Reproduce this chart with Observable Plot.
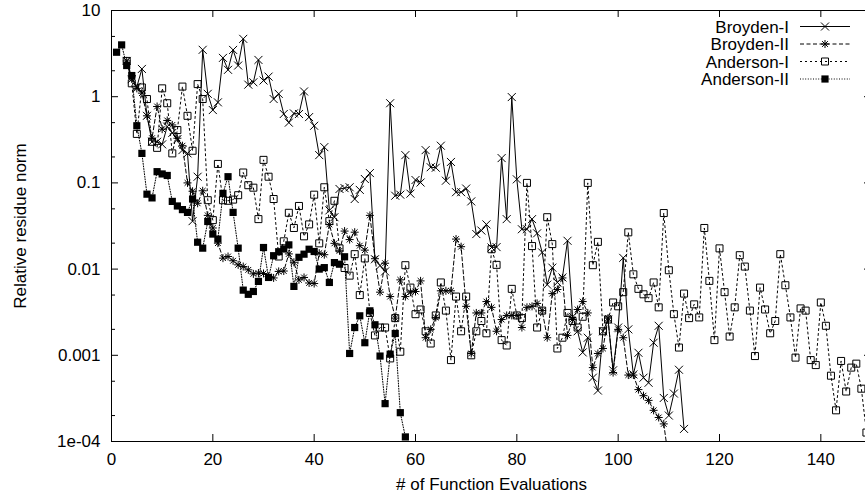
<!DOCTYPE html>
<html><head><meta charset="utf-8">
<script src="https://cdn.jsdelivr.net/npm/d3@7"></script>
<script src="https://cdn.jsdelivr.net/npm/@observablehq/plot@0.6"></script>
<style>
html,body{margin:0;padding:0;background:#fff;overflow:hidden;width:865px;height:499px;}
#chart svg{max-width:none !important;display:block;}
</style></head><body><div id="chart"></div>
<script>
// ---- axis ticks ----
const xTicks = [0, 20, 40, 60, 80, 100, 120, 140];
const yTicks = [1e-4, 1e-3, 1e-2, 1e-1, 1, 10];
const yTickLabels = ["1e-04", "0.001", "0.01", "0.1", "1", "10"];
const yMinorTicks = [2e-4, 5e-4, 2e-3, 5e-3, 2e-2, 5e-2, 0.2, 0.5, 2, 5];
const xLabel = "# of Function Evaluations";
const yLabel = "Relative residue norm";
const seriesNames = ["Broyden-I", "Broyden-II", "Anderson-I", "Anderson-II"];

// ---- series values (x = start, start+1, ...) ----
const broyden1Start = 3;
const broyden1 = [2.6,1.6,1.3,2.1,0.6,0.3,0.3,0.28,0.45,0.38,0.32,0.24,0.22,0.036,0.118,3.5,
  1.08,0.70,0.86,2.82,2.05,3.49,2.30,4.69,1.38,1.47,2.67,1.54,
  1.71,0.94,1.08,0.63,0.50,0.64,0.63,1.15,0.58,0.46,0.21,0.26,
  0.048,0.040,0.085,0.087,0.089,0.065,0.083,0.111,0.130,0.013,0.011,0.0094,
  0.84,0.071,0.073,0.21,0.075,0.108,0.101,0.24,0.152,0.15,0.27,0.106,
  0.175,0.078,0.078,0.086,0.061,0.0255,0.028,0.033,0.0178,0.018,0.194,0.038,
  0.99,0.11,0.029,0.029,0.038,0.026,0.0156,0.0066,0.0104,0.007,0.008,0.0213,
  0.0028,0.0019,0.00108,0.0016,0.00055,0.00039,0.0019,0.0026,0.00067,0.0021,0.0135,0.002,
  0.0006,0.00107,0.00055,0.00048,0.0014,0.0022,0.00032,0.0002,0.00036,0.00068,0.00014];

const broyden2Start = 3;
const broyden2 = [2.6,1.7,1.25,1.1,0.6,0.33,0.77,0.42,0.53,0.47,0.33,0.27,
  0.1,0.08,0.058,0.081,0.042,0.03,0.02,0.0134,0.014,0.0125,0.0112,0.0107,
  0.0098,0.0088,0.009,0.0089,0.0082,0.0079,0.0094,0.0095,0.015,0.012,0.0075,0.008,
  0.0069,0.0068,0.0153,0.0147,0.033,0.0199,0.0163,0.0276,0.022,0.0268,0.0187,0.0166,
  0.042,0.0132,0.0054,0.0117,0.0048,0.0027,0.0075,0.0048,0.0054,0.0055,0.0073,0.0016,
  0.002,0.00275,0.0056,0.0056,0.0056,0.0223,0.0182,0.0037,0.00105,0.0031,0.0031,0.0042,
  0.0036,0.0019,0.0026,0.0029,0.0029,0.0029,0.0021,0.0036,0.0037,0.004,0.0033,0.0016,
  0.0052,0.0058,0.0079,0.0017,0.0026,0.0034,0.0042,0.0031,0.00072,0.00105,0.0012,0.0027,
  0.00063,0.002,0.0016,0.00059,0.00059,0.0004,0.00034,0.0003,0.00023,0.00019,0.00016,0.00006];

const anderson1Start = 3;
const anderson1 = [2.6,1.43,0.37,1.28,0.94,0.3,0.255,1.25,0.84,0.22,0.41,1.31,
  0.6,0.236,1.4,0.94,0.063,0.037,0.166,0.063,0.062,0.064,0.072,0.132,
  0.094,0.088,0.038,0.185,0.118,0.065,0.014,0.021,0.045,0.03,0.054,0.024,
  0.033,0.073,0.0199,0.089,0.036,0.062,0.0174,0.0103,0.0084,0.0149,0.005,0.0133,
  0.0031,0.0017,0.0021,0.0021,0.00092,0.0027,0.0011,0.0111,0.0061,0.003,0.0034,0.0019,
  0.00137,0.0029,0.007,0.0033,0.00088,0.0048,0.0019,0.0048,0.001,0.0019,0.0025,0.0018,
  0.017,0.0112,0.0015,0.0013,0.0059,0.0029,0.0027,0.1,0.0185,0.0021,0.0033,0.04,
  0.0195,0.0012,0.0016,0.0031,0.0025,0.0021,0.0028,0.1,0.0111,0.0207,0.0019,0.0026,
  0.0041,0.0037,0.0054,0.0267,0.0087,0.0059,0.0051,0.0046,0.007,0.0036,0.0447,0.0097,
  0.003,0.00123,0.0052,0.0027,0.0039,0.00275,0.03,0.0073,0.0015,0.0174,0.0054,0.00165,
  0.0036,0.0145,0.0107,0.0033,0.00098,0.0061,0.0034,0.0018,0.0025,0.0149,0.0065,0.00275,
  0.00094,0.0035,0.0033,0.00088,0.00077,0.0041,0.0022,0.00058,0.00023,0.00086,0.00038,0.00072,
  0.0008,0.00041,0.000127];

const anderson2Start = 1;
const anderson2 = [3.28,3.99,2.3,1.76,0.46,0.22,0.074,0.067,0.135,0.127,0.122,0.061,
  0.054,0.049,0.0455,0.065,0.0205,0.0175,0.0357,0.0255,0.0223,0.0756,0.118,0.0455,
  0.0175,0.0057,0.0051,0.0055,0.0072,0.0178,0.008,0.0143,0.0159,0.0171,0.0191,0.0063,
  0.0137,0.0149,0.017,0.016,0.010,0.0104,0.007,0.0119,0.0114,0.0139,0.00105,0.0021,
  0.00287,0.0014,0.00328,0.00226,0.00098,0.000275,0.00103,0.00179,0.000216,0.000113];

// ---- build tables ----
const rows = (start, vals) => vals.map((v, i) => ({x: start + i, y: v}));
const tables = [rows(broyden1Start, broyden1), rows(broyden2Start, broyden2),
                rows(anderson1Start, anderson1), rows(anderson2Start, anderson2)];

// ---- symbols ----
const symTimes = {draw(ctx, size){const s = Math.sqrt(size / Math.PI);
  ctx.moveTo(-s, -s); ctx.lineTo(s, s); ctx.moveTo(-s, s); ctx.lineTo(s, -s);}};
const symStar = {draw(ctx, size){const s = Math.sqrt(size / Math.PI), d = s * 0.72;
  ctx.moveTo(-s, 0); ctx.lineTo(s, 0); ctx.moveTo(0, -s); ctx.lineTo(0, s);
  ctx.moveTo(-d, -d); ctx.lineTo(d, d); ctx.moveTo(-d, d); ctx.lineTo(d, -d);}};
const symSquare = {draw(ctx, size){const s = Math.sqrt(size / Math.PI);
  ctx.rect(-s, -s, 2 * s, 2 * s);}};

const styles = [
  {dash: null, sym: symTimes, r: 4, fill: "none", stroke: "black"},
  {dash: "4,2.5", sym: symStar, r: 4, fill: "none", stroke: "black"},
  {dash: "2,3", sym: symSquare, r: 3.5, fill: "none", stroke: "black"},
  {dash: "1,1.6", sym: symSquare, r: 3.6, fill: "black", stroke: "none"}
];

const FONT = "'Liberation Sans', Arial, Helvetica, sans-serif";
const W = 872, H = 499, ML = 111, MR = 1, MT = 10, MB = 58;
const plotW = W - ML - MR, plotH = H - MT - MB;

const seriesMarks = [];
tables.forEach((t, i) => {
  const st = styles[i];
  const lineOpts = {x: "x", y: "y", stroke: "black", strokeWidth: 1, clip: true};
  if (st.dash) lineOpts.strokeDasharray = st.dash;
  seriesMarks.push(Plot.line(t, lineOpts));
  seriesMarks.push(Plot.dot(t, {x: "x", y: "y", symbol: st.sym, r: st.r,
    fill: st.fill, stroke: st.stroke, strokeWidth: 1, clip: true}));
});

const chart = Plot.plot({
  width: W, height: H,
  marginLeft: ML, marginRight: MR, marginTop: MT, marginBottom: MB,
  style: {fontFamily: FONT, fontSize: "17px", background: "white", color: "black", maxWidth: "none", overflow: "hidden"},
  x: {domain: [0, 150]},
  y: {type: "log", domain: [1e-4, 10]},
  marks: [
    // inward ticks
    Plot.ruleX(xTicks, {x: d => d, insetTop: plotH - 7, stroke: "black"}),
    Plot.ruleX(xTicks, {x: d => d, insetBottom: plotH - 7, stroke: "black"}),
    Plot.ruleY(yTicks, {y: d => d, insetRight: plotW - 7, stroke: "black"}),
    Plot.ruleY(yTicks, {y: d => d, insetLeft: plotW - 7, stroke: "black"}),
    Plot.ruleY(yMinorTicks, {y: d => d, insetRight: plotW - 4, stroke: "black"}),
    Plot.ruleY(yMinorTicks, {y: d => d, insetLeft: plotW - 4, stroke: "black"}),
    ...seriesMarks,
    Plot.frame({stroke: "black", strokeWidth: 1}),
    Plot.axisX(xTicks, {tickSize: 0, tickPadding: 11, fontSize: 17, label: null, tickFormat: d => String(d)}),
    Plot.axisY(yTicks, {tickSize: 0, tickPadding: 11, fontSize: 17, label: null,
      tickFormat: d => yTickLabels[yTicks.indexOf(d)]}),
    Plot.text([yLabel], {text: d => d, frameAnchor: "left", dx: 25 - ML, rotate: -90,
      lineAnchor: "bottom", textAnchor: "middle", fontSize: 17}),
    Plot.text([xLabel], {text: d => d, frameAnchor: "bottom", dy: 48, lineAnchor: "bottom",
      textAnchor: "middle", fontSize: 17})
  ]
});
document.getElementById("chart").appendChild(chart);

// ---- legend (top right, inside plot) ----
const g = d3.select(chart).append("g").attr("font-family", FONT).attr("font-size", 17);
seriesNames.forEach((name, i) => {
  const st = styles[i];
  const y = 26.5 + 17.5 * i;
  g.append("text").attr("x", 789).attr("y", y + 6).attr("text-anchor", "end").attr("fill", "black").text(name);
  const ln = g.append("line").attr("x1", 800).attr("x2", 850).attr("y1", y).attr("y2", y)
    .attr("stroke", "black").attr("stroke-width", 1);
  if (st.dash) ln.attr("stroke-dasharray", st.dash);
  const p = d3.path();
  st.sym.draw(p, st.r * st.r * Math.PI);
  g.append("path").attr("d", p.toString()).attr("transform", `translate(825,${y})`)
    .attr("fill", st.fill).attr("stroke", st.stroke).attr("stroke-width", 1);
});
</script></body></html>
